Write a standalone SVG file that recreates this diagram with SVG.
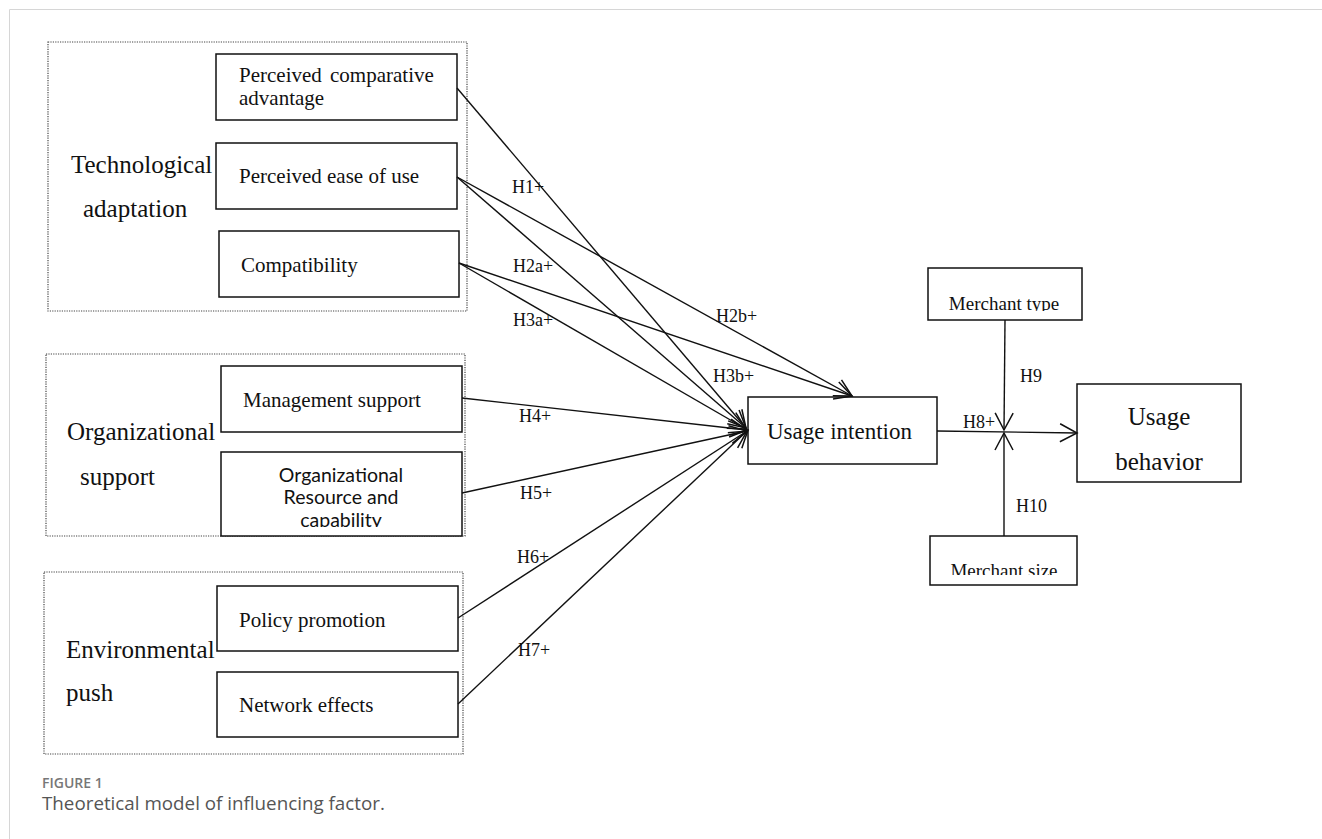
<svg xmlns="http://www.w3.org/2000/svg" width="1322" height="839" viewBox="0 0 1322 839">
<style>
.grp{fill:none;stroke:#444;stroke-width:1.2;stroke-dasharray:1.2 1.2}
.box{fill:#fff;stroke:#111;stroke-width:1.5}
.t{font-family:"Liberation Serif",serif;fill:#111}
.big{font-size:25px}
.nt{font-size:21px}
.lab{font-size:18px}
.sans{font-family:Lato,"Open Sans",sans-serif;font-size:19.5px;fill:#111}
.conn line{stroke:#111;stroke-width:1.4;fill:none}
.cap{font-family:"Open Sans","Liberation Sans",sans-serif}
</style>
<defs>
<marker id="arr" markerUnits="userSpaceOnUse" markerWidth="40" markerHeight="40" refX="0" refY="0" viewBox="-20 -20 40 40" orient="auto" overflow="visible">
<path d="M-17,-9 L0,0 L-17,9" fill="none" stroke="#111" stroke-width="1.5"/>
</marker>
<clipPath id="c1"><rect x="221" y="452" width="241" height="75"/></clipPath>
<clipPath id="c2"><rect x="928" y="268" width="154" height="43"/></clipPath>
<clipPath id="c3"><rect x="930" y="536" width="147" height="39"/></clipPath>
</defs>
<rect width="1322" height="839" fill="#fff"/>
<path d="M9.5,839 V9.5 H1322" fill="none" stroke="#d6d6d6" stroke-width="1"/>

<g id="group-tech">
<rect class="grp" x="48" y="42" width="419" height="269"/>
<text class="t big" x="71" y="173">Technological</text>
<text class="t big" x="83" y="217">adaptation</text>
</g>
<g id="group-org">
<rect class="grp" x="46" y="354" width="419" height="182"/>
<text class="t big" x="67" y="440">Organizational</text>
<text class="t big" x="80" y="485">support</text>
</g>
<g id="group-env">
<rect class="grp" x="44" y="572" width="419" height="182"/>
<text class="t big" x="66" y="658">Environmental</text>
<text class="t big" x="66" y="701">push</text>
</g>

<g id="n-pca">
<rect class="box" x="216" y="54" width="241" height="66"/>
<text class="t nt" x="239" y="82" word-spacing="3">Perceived comparative</text>
<text class="t nt" x="239" y="105">advantage</text>
</g>
<g id="n-peou">
<rect class="box" x="216" y="143" width="241" height="66"/>
<text class="t nt" x="239" y="183">Perceived ease of use</text>
</g>
<g id="n-comp">
<rect class="box" x="219" y="231" width="240" height="66"/>
<text class="t nt" x="241" y="272">Compatibility</text>
</g>
<g id="n-ms">
<rect class="box" x="221" y="366" width="241" height="66"/>
<text class="t nt" x="243" y="407">Management support</text>
</g>
<g id="n-orc">
<rect class="box" x="221" y="452" width="241" height="84"/>
<g clip-path="url(#c1)">
<text class="sans" x="341" y="482" text-anchor="middle">Organizational</text>
<text class="sans" x="341" y="504" text-anchor="middle">Resource and</text>
<text class="sans" x="341" y="527" text-anchor="middle">capability</text>
</g>
</g>
<g id="n-pp">
<rect class="box" x="217" y="586" width="241" height="65"/>
<text class="t nt" x="239" y="627">Policy promotion</text>
</g>
<g id="n-ne">
<rect class="box" x="217" y="672" width="241" height="65"/>
<text class="t nt" x="239" y="712">Network effects</text>
</g>

<g id="n-ui">
<rect class="box" x="748" y="397" width="189" height="67"/>
<text class="t" font-size="23" x="767" y="439">Usage intention</text>
</g>
<g id="n-ub">
<rect class="box" x="1077" y="384" width="164" height="98"/>
<text class="t big" x="1159" y="425" text-anchor="middle">Usage</text>
<text class="t big" x="1159" y="470" text-anchor="middle">behavior</text>
</g>
<g id="n-mt">
<rect class="box" x="928" y="268" width="154" height="52"/>
<text class="t" font-size="19" x="1004" y="310" text-anchor="middle" clip-path="url(#c2)">Merchant type</text>
</g>
<g id="n-msz">
<rect class="box" x="930" y="536" width="147" height="49"/>
<text class="t" font-size="19" x="1004" y="577" text-anchor="middle" clip-path="url(#c3)">Merchant size</text>
</g>

<g id="connectors" class="conn">
<line x1="457" y1="88" x2="746" y2="428" marker-end="url(#arr)"/>
<line x1="457" y1="177" x2="852" y2="396" marker-end="url(#arr)"/>
<line x1="457" y1="177" x2="746" y2="428" marker-end="url(#arr)"/>
<line x1="459" y1="263" x2="852" y2="396" marker-end="url(#arr)"/>
<line x1="459" y1="263" x2="746" y2="429" marker-end="url(#arr)"/>
<line x1="462" y1="398" x2="747" y2="430" marker-end="url(#arr)"/>
<line x1="462" y1="493" x2="747" y2="431" marker-end="url(#arr)"/>
<line x1="458" y1="618" x2="747" y2="431" marker-end="url(#arr)"/>
<line x1="458" y1="704" x2="748" y2="430" marker-end="url(#arr)"/>
<line x1="937" y1="431" x2="1077" y2="433" marker-end="url(#arr)"/>
<line x1="1005" y1="320" x2="1004" y2="430" marker-end="url(#arr)"/>
<line x1="1004" y1="536" x2="1004" y2="433" marker-end="url(#arr)"/>
</g>

<g id="labels">
<text class="t lab" x="512" y="193">H1+</text>
<text class="t lab" x="513" y="272">H2a+</text>
<text class="t lab" x="513" y="326">H3a+</text>
<text class="t lab" x="716" y="322">H2b+</text>
<text class="t lab" x="713" y="382">H3b+</text>
<text class="t lab" x="519" y="422">H4+</text>
<text class="t lab" x="520" y="499">H5+</text>
<text class="t lab" x="517" y="563">H6+</text>
<text class="t lab" x="518" y="656">H7+</text>
<text class="t lab" x="963" y="428">H8+</text>
<text class="t lab" x="1020" y="382">H9</text>
<text class="t lab" x="1016" y="512">H10</text>
</g>

<g id="caption">
<text class="cap" x="42" y="788" font-size="14" font-weight="600" fill="#777">FIGURE 1</text>
<text class="cap" x="42" y="810" font-size="18.8" fill="#555">Theoretical model of influencing factor.</text>
</g>
</svg>
